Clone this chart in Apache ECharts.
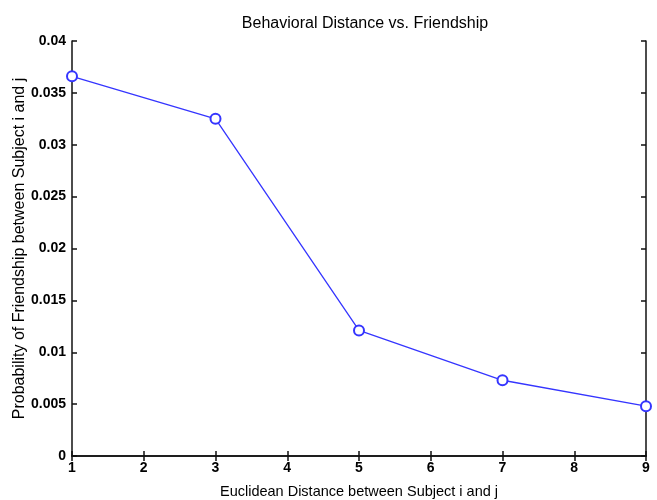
<!DOCTYPE html>
<html>
<head>
<meta charset="utf-8">
<script src="https://cdn.jsdelivr.net/npm/echarts@6/dist/echarts.min.js"></script>
<style>
  html, body { margin: 0; padding: 0; background: #fff; }
  #chart { width: 657px; height: 500px; }
</style>
</head>
<body>
<div id="chart"></div>
<script>
// Euclidean distance vs friendship probability
const distances = [1, 3, 5, 7, 9]
const probabilities = [0.0366, 0.0325, 0.0121, 0.0073, 0.0048]
const xTicks = [1, 2, 3, 4, 5, 6, 7, 8, 9]
const yTicks = [0, 0.005, 0.01, 0.015, 0.02, 0.025, 0.03, 0.035, 0.04]

const font = '"Liberation Sans", Arial, sans-serif'
const chart = echarts.init(document.getElementById('chart'))

const points = distances.map((d, i) => [d, probabilities[i]])

const axisLine = { show: true, lineStyle: { color: '#111', width: 1.5 } }
const tick = { show: true, inside: true, length: 5, lineStyle: { color: '#111', width: 1.5 } }

chart.setOption({
  animation: false,
  title: {
    text: 'Behavioral Distance vs. Friendship',
    left: 360,
    textAlign: 'center',
    top: 11,
    textStyle: { fontFamily: font, fontSize: 16, fontWeight: 'normal', color: '#000' }
  },
  grid: { left: 72, right: 11, top: 41, bottom: 44, show: false, containLabel: false, outerBoundsMode: 'none' },
  xAxis: [
    {
      type: 'value',
      min: xTicks[0],
      max: xTicks[xTicks.length - 1],
      interval: 1,
      axisLine: axisLine,
      axisTick: tick,
      splitLine: { show: false },
      axisLabel: { color: '#000', fontFamily: font, fontSize: 14, fontWeight: 'bold', margin: 5 },
      name: 'Euclidean Distance between Subject i and j',
      nameLocation: 'middle',
      nameGap: 28,
      nameMoveOverlap: false,
      nameTextStyle: { color: '#000', fontFamily: font, fontSize: 14.5 }
    },
    {
      type: 'value',
      position: 'top',
      min: xTicks[0],
      max: xTicks[xTicks.length - 1],
      interval: 1,
      axisLine: axisLine,
      axisTick: tick,
      axisLabel: { show: false },
      splitLine: { show: false }
    }
  ],
  yAxis: [
    {
      type: 'value',
      min: yTicks[0],
      max: yTicks[yTicks.length - 1],
      interval: 0.005,
      axisLine: axisLine,
      axisTick: tick,
      splitLine: { show: false },
      axisLabel: {
        color: '#000', fontFamily: font, fontSize: 14, fontWeight: 'bold', margin: 6,
        formatter: v => String(+v.toFixed(3))
      },
      name: 'Probability of Friendship between Subject i and j',
      nameLocation: 'middle',
      nameGap: 44,
      nameMoveOverlap: false,
      nameTextStyle: { color: '#000', fontFamily: font, fontSize: 16 }
    },
    {
      type: 'value',
      position: 'right',
      min: yTicks[0],
      max: yTicks[yTicks.length - 1],
      interval: 0.005,
      axisLine: axisLine,
      axisTick: tick,
      axisLabel: { show: false },
      splitLine: { show: false }
    }
  ],
  series: [
    {
      type: 'line',
      data: points,
      symbol: 'emptyCircle',
      symbolSize: 10,
      lineStyle: { color: '#3535ff', width: 1.3 },
      itemStyle: { color: '#3535ff', borderColor: '#3535ff', borderWidth: 1.3 }
    }
  ]
})
</script>
</body>
</html>
